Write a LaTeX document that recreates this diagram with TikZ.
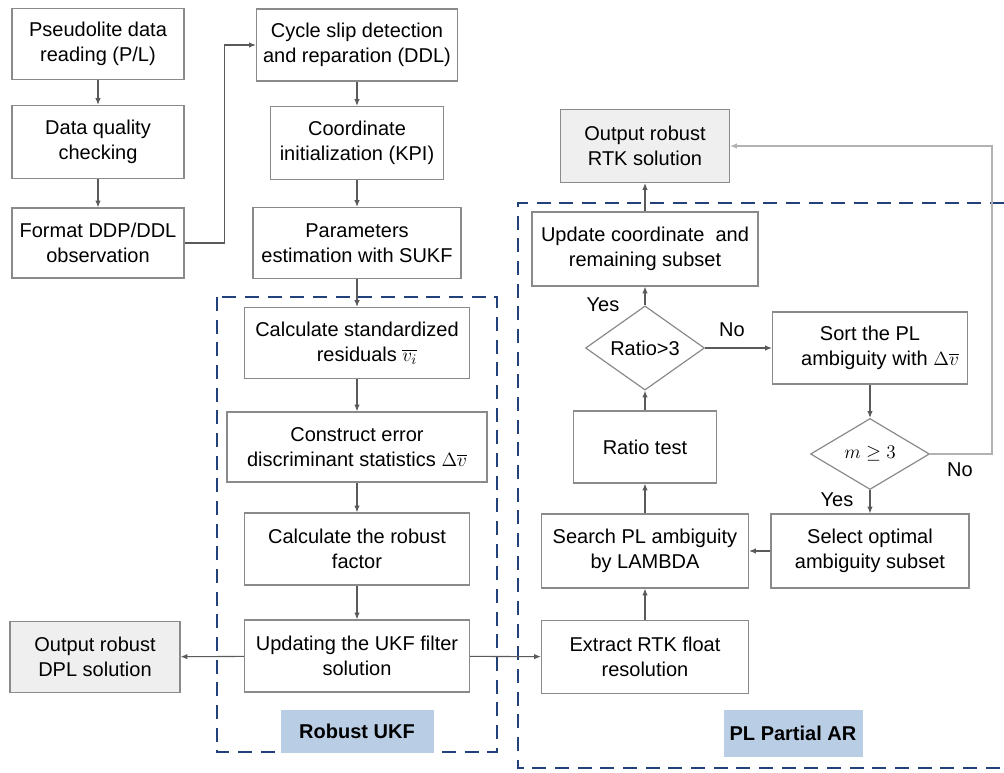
\documentclass[tikz,border=0pt]{standalone}
\usepackage{fontspec}
\setmainfont{Liberation Sans}
\usepackage{amsmath}
\usetikzlibrary{arrows.meta,shapes.geometric}
\definecolor{boxline}{HTML}{8A8A8A}
\definecolor{wire}{HTML}{5A5A5A}
\definecolor{zoneblue}{HTML}{22407A}
\definecolor{tagblue}{HTML}{B9CDE5}
\definecolor{outgray}{HTML}{EFEFEF}
\tikzset{
  sz/.style 2 args={minimum width=#1*0.75pt,minimum height=#2*0.75pt},
  box/.style    ={draw=boxline,line width=0.9pt,align=center,inner sep=1pt,
                  font=\fontsize{15}{18.5}\selectfont},
  outbox/.style ={box,fill=outgray},
  test/.style   ={diamond,draw=boxline,line width=0.9pt,inner sep=0pt,
                  font=\fontsize{15}{18.5}\selectfont},
  tag/.style    ={fill=tagblue,inner sep=0pt,font=\fontsize{15}{18.5}\selectfont\bfseries},
  arr/.style    ={-{Latex[length=5pt,width=4pt]},draw=wire,line width=0.8pt},
  back/.style   ={-{Latex[length=5pt,width=4pt]},draw=black!30,line width=0.8pt},
  zone/.style   ={draw=zoneblue,line width=1.8pt,dash pattern=on 10.5pt off 6.5pt},
  lbl/.style    ={font=\fontsize{15}{18.5}\selectfont},
}
\begin{document}
\begin{tikzpicture}[x=0.75pt,y=-0.75pt]
  \useasboundingbox (0,0) rectangle (1004,773);
  % dashed zones
  \draw[zone] (217,297) rectangle (497,752);
  \draw[zone] (1004,203) -- (518,203) -- (518,768) -- (1004,768);
  % LEFT: data preparation
  \node[box,sz={172}{71}] (read)    at (98,44)  {Pseudolite data\\reading (P/L)};
  \node[box,sz={172}{73}] (quality) at (98,142) {Data quality\\checking};
  \node[box,sz={172}{70}] (format)  at (98,243) {Format DDP/DDL\\observation};
  \node[outbox,sz={170}{71}] (dpl)  at (95,657) {Output robust\\DPL solution};
  % MIDDLE: preprocessing and robust UKF
  \node[box,sz={201}{72}] (slip)    at (357,45)  {Cycle slip detection\\and reparation (DDL)};
  \node[box,sz={173}{73}] (init)    at (357,143) {Coordinate\\initialization (KPI)};
  \node[box,sz={208}{71}] (sukf)    at (357,243) {Parameters\\estimation with SUKF};
  \node[box,sz={225}{71}] (resid)   at (357,343) {Calculate standardized\\\quad residuals $\overline{v_i}$};
  \node[box,sz={260}{70}] (discr)   at (357,447) {Construct error\\discriminant statistics $\Delta\overline{v}$};
  \node[box,sz={225}{72}] (factor)  at (357,549) {Calculate the robust\\factor};
  \node[box,sz={225}{72}] (ukf)     at (357,656) {Updating the UKF filter\\solution};
  \node[tag,sz={153}{43}] (ukftag)  at (357,731) {Robust UKF};
  % RIGHT: partial ambiguity resolution
  \node[outbox,sz={169}{73}] (rtk)  at (645,146) {Output robust\\RTK solution};
  \node[box,sz={226}{74}] (upd)     at (645,249) {Update coordinate~ and\\remaining subset};
  \node[test,sz={119}{71}] (ratio)  at (645,348) {Ratio>3};
  \node[box,sz={143}{72}] (rtest)   at (645,447) {Ratio test};
  \node[box,sz={207}{74}] (search)  at (645,551) {Search PL ambiguity\\by LAMBDA};
  \node[box,sz={207}{73}] (float)   at (645,657) {Extract RTK float\\resolution};
  \node[box,sz={195}{72}] (sort)    at (870,348) {Sort the PL\\\quad ambiguity with $\Delta\overline{v}$};
  \node[test,sz={119}{71}] (mtest)  at (870,454) {$m\geq 3$};
  \node[box,sz={198}{74}] (subset)  at (870,551) {Select optimal\\ambiguity subset};
  \node[tag,sz={139}{47}] (artag)   at (793,733) {PL Partial AR};
  % connectors
  \foreach \a/\b in {read/quality,quality/format,slip/init,init/sukf,sukf/resid,
                     resid/discr,discr/factor,factor/ukf,float/search,search/rtest,
                     rtest/ratio,ratio/upd,upd/rtk,sort/mtest,mtest/subset}
    \draw[arr] (\a) -- (\b);
  \draw[arr] (format.east) -- ++(40,0) |- (slip.west);
  \draw[arr] (ukf) -- (dpl);
  \draw[arr] (ukf) -- (float);
  \draw[arr] (ratio) -- (sort);
  \draw[arr] (subset) -- (search);
  \coordinate (turn) at (992,454);
  \draw[back] (mtest.east) -- (turn) |- (rtk.east);
  % yes / no
  \node[lbl] (yes1) at (603,305) {Yes};
  \node[lbl] (no1)  at (732,330) {No};
  \node[lbl] (yes2) at (837,500) {Yes};
  \node[lbl] (no2)  at (960,470) {No};
\end{tikzpicture}
\end{document}
